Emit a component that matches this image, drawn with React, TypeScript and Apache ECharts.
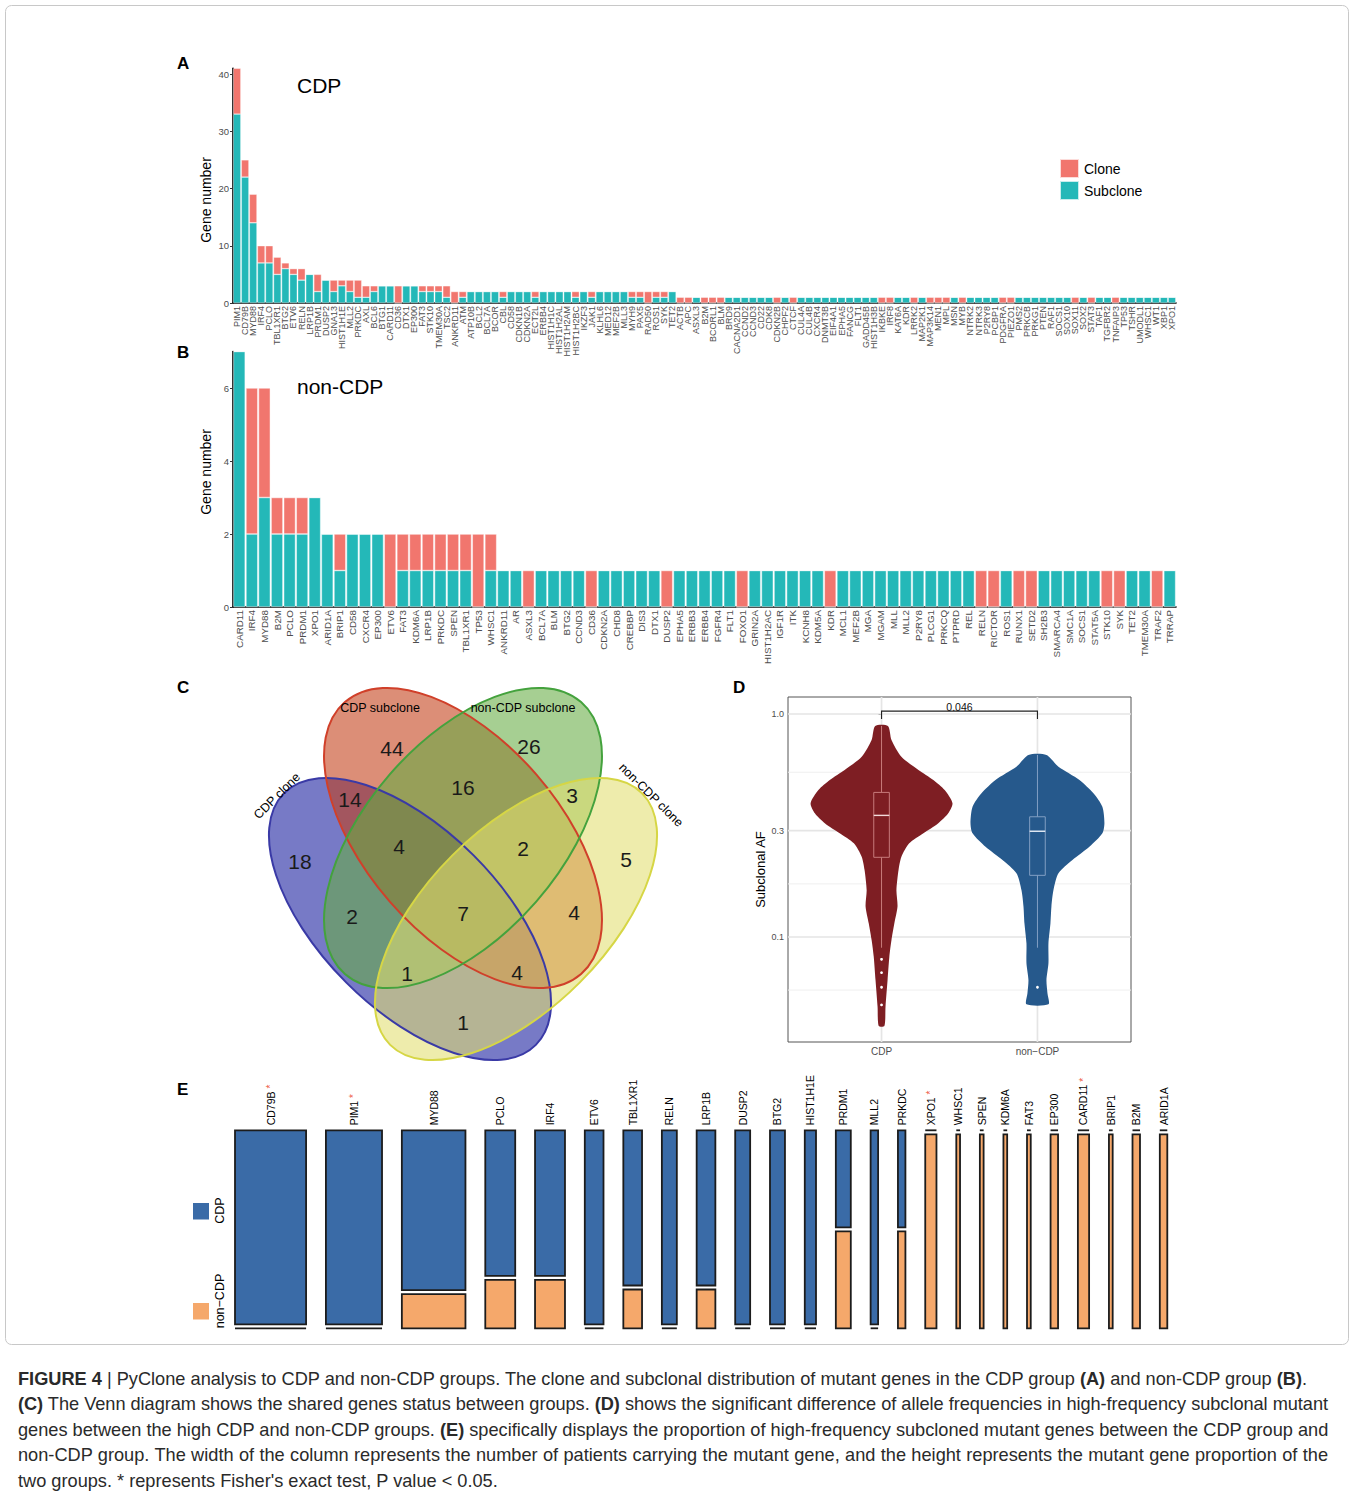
import React, { useEffect, useRef } from 'react';
import * as echarts from 'echarts';

const FONT = "'Liberation Sans', Arial, Helvetica, sans-serif";

// ---------------- Panel A (CDP) ----------------
const genesA = ['PIM1','CD79B','MYD88','IRF4','PCLO','TBL1XR1','BTG2','ETV6','RELN','LRP1B','PRDM1','DUSP2','GNA13','HIST1H1E','MLL2','PRKDC','AXL','BCL6','BTG1','CARD11','CD36','DTX1','EP300','FAT3','STK10','TMEM30A','TSC2','ANKRD11','ATM','ATP10B','BCL2','BCL7A','BCOR','CBL','CD58','CDKN1B','CDKN2A','ECT2L','ERBB4','HIST1H1C','HIST1H2AL','HIST1H2AM','HIST1H2BC','IKZF3','JAK1','KLHL6','MED12','MEF2B','MLL3','MYH9','PAX5','RAD50','ROS1','SYK','TET2','ACTB','APC','ASXL3','B2M','BCORL1','BLM','BRD9','CACNA2D1','CCND2','CCND3','CD22','CDK8','CDKN2B','CHPF2','CTCF','CUL4A','CUL4B','CXCR4','DNMT3B','EIF4A1','EPHA5','FANCG','FLT1','GADD45B','HIST1H3B','IKBKE','IRF8','KAT6A','KDR','LRRK2','MAP2K1','MAP3K14','MEN1','MPL','MSN','MYB','NTRK2','NTRK3','P2RY8','PCBP1','PDGFRA','PIEZO1','PMS2','PRKCB','PRKG1','PTEN','RAF1','SOCS1','SOX10','SOX11','SOX2','STAT3','TAF1','TGFBR2','TNFAIP3','TP53','TSHR','UMODL1','WHSC1','WT1','XBP1','XPO1'];
const subcloneA = [
  33,22,14,7,7,5,6,5,4,5,
  2,4,2,3,2,1,1,2,3,3,
  0,3,3,2,2,2,1,0,1,2,
  2,2,2,1,2,2,2,1,2,2,
  2,2,1,2,1,2,2,2,2,1,
  1,0,1,1,2,
  0,0,1,0,0,0,1,1,1,1,
  1,1,0,1,0,1,1,1,1,1,
  1,1,1,1,1,0,0,1,1,0,
  1,0,0,0,1,0,1,1,1,1,
  0,0,1,1,1,1,1,1,1,0,
  1,0,1,1,0,1,1,1,1,1,1,1
];
const cloneA = [
  8,3,5,3,3,3,1,1,2,0,
  3,0,2,1,2,3,2,1,0,0,
  3,0,0,1,1,1,2,2,1,0,
  0,0,0,1,0,0,0,1,0,0,
  0,0,1,0,1,0,0,0,0,1,
  1,2,1,1,0,
  1,1,0,1,1,1,0,0,0,0,
  0,0,1,0,1,0,0,0,0,0,
  0,0,0,0,0,1,1,0,0,1,
  0,1,1,1,0,1,0,0,0,0,
  1,1,0,0,0,0,0,0,0,1,
  0,1,0,0,1,0,0,0,0,0,0,0
];
const yTicksA = [0, 10, 20, 30, 40];

// ---------------- Panel B (non-CDP) ----------------
const genesB = ['CARD11','IRF4','MYD88','B2M','PCLO','PRDM1','XPO1','ARID1A','BRIP1','CD58','CXCR4','EP300','ETV6','FAT3','KDM6A','LRP1B','PRKDC','SPEN','TBL1XR1','TP53','WHSC1','ANKRD11','AR','ASXL3','BCL7A','BLM','BTG2','CCND3','CD36','CDKN2A','CHD8','CREBBP','DIS3','DTX1','DUSP2','EPHA5','ERBB3','ERBB4','FGFR4','FLT1','FOXO1','GRIN2A','HIST1H2AC','IGF1R','ITK','KCNH8','KDM5A','KDR','MCL1','MEF2B','MGA','MGAM','MLL','MLL2','P2RY8','PLCG1','PRKCQ','PTPRD','REL','RELN','RICTOR','ROS1','RUNX1','SETD2','SH2B3','SMARCA4','SMC1A','SOCS1','STAT5A','STK10','SYK','TET2','TMEM30A','TRAF2','TRRAP'];
const subcloneB = [
  7,2,3,2,2,2,3,2,1,2,2,2,0,1,1,1,1,1,1,0,1,
  1,1,0,1,1,1,1,0,1,1,
  1,1,1,0,1,1,1,1,1,0,
  1,1,1,1,1,1,0,1,1,1,
  1,1,1,1,1,1,1,1,0,0,
  1,0,0,1,1,1,1,1,0,0,
  1,1,0,1
];
const cloneB = [
  0,4,3,1,1,1,0,0,1,0,0,0,2,1,1,1,1,1,1,2,1,
  0,0,1,0,0,0,0,1,0,0,
  0,0,0,1,0,0,0,0,0,1,
  0,0,0,0,0,0,1,0,0,0,
  0,0,0,0,0,0,0,0,1,1,
  0,1,1,0,0,0,0,0,1,1,
  0,0,1,0
];
const yTicksB = [0, 2, 4, 6];

// ---------------- Panel C (Venn) ----------------
const vennSets = ['CDP clone', 'CDP subclone', 'non-CDP subclone', 'non-CDP clone'];
const vennRegions = ['A','B','C','D','AB','BC','CD','ABC','BCD','AC','ABCD','BD','ACD','ABD','AD'];
const vennCounts = [18, 44, 26, 5, 14, 16, 3, 4, 2, 2, 7, 4, 1, 4, 1];

// ---------------- Panel D (violin) ----------------
const groupsD = ['CDP', 'non\u2212CDP'];
const cdpViolinAF = [0.884, 0.765, 0.643, 0.561, 0.506, 0.456, 0.398, 0.359, 0.324, 0.292, 0.263, 0.229, 0.200, 0.162, 0.137, 0.115, 0.097, 0.0816, 0.0641, 0.0487, 0.0399];
const cdpViolinDensity = [0.09, 0.14, 0.28, 0.52, 0.73, 0.89, 1.0, 0.94, 0.80, 0.59, 0.39, 0.28, 0.24, 0.21, 0.225, 0.18, 0.14, 0.11, 0.085, 0.056, 0.04];
const nonCdpViolinAF = [0.655, 0.580, 0.506, 0.441, 0.384, 0.324, 0.292, 0.254, 0.2215, 0.193, 0.162, 0.137, 0.115, 0.0937, 0.0762, 0.0641, 0.0559, 0.0499];
const nonCdpViolinDensity = [0.127, 0.296, 0.592, 0.789, 0.915, 0.944, 0.915, 0.732, 0.493, 0.296, 0.225, 0.197, 0.183, 0.155, 0.155, 0.127, 0.141, 0.155];
// [lower whisker, q1, median, q3, upper whisker]
const cdpBox = [0.0895, 0.2277, 0.351, 0.445, 0.884];
const nonCdpBox = [0.0895, 0.189, 0.298, 0.346, 0.655];
const cdpOutliers = [0.0794, 0.0692, 0.0595, 0.0496];
const nonCdpOutliers = [0.0595];
const yBreaksD = [1.0, 0.3, 0.1];
const yMinorBreaksD = [0.548, 0.173, 0.0578];
const pValueD = '0.046';

// ---------------- Panel E (mosaic) ----------------
const genesE = ['CD79B','PIM1','MYD88','PCLO','IRF4','ETV6','TBL1XR1','RELN','LRP1B','DUSP2','BTG2','HIST1H1E','PRDM1','MLL2','PRKDC','XPO1','WHSC1','SPEN','KDM6A','FAT3','EP300','CARD11','BRIP1','B2M','ARID1A'];
const cdpE = [19,15,14,6,6,5,4,4,4,4,4,3,2,2,1,0,0,0,0,0,0,0,0,0,0];
const nonCdpE = [0,0,3,2,2,0,1,0,1,0,0,0,2,0,1,3,1,1,1,1,2,3,1,2,2];
const significantE = ['CD79B','PIM1','XPO1','CARD11'];

// ---------------- styling ----------------
const TEAL = '#24B8B8';
const SALMON = '#F1766E';
const BLUE_E = '#3A6BA7';
const ORANGE_E = '#F5A86B';
const VIOLIN_COLORS = ['#7E1E23', '#26598C'];
const BOX_STROKE = ['#CF8585', '#8CA7C9'];
const MEDIAN_STROKE = ['#F3DADA', '#EAF0F8'];
const VIOLIN_HALF = 0.455;
const BOX_HALF = 0.05;
const E_GAP_UNITS = 5.3;
const E_GAP_Y = 0.0202;

function buildOption() {
  const violinAF = [cdpViolinAF, nonCdpViolinAF];
  const violinDen = [cdpViolinDensity, nonCdpViolinDensity];
  const boxes = [cdpBox, nonCdpBox];
  const outl = [cdpOutliers, nonCdpOutliers];
  const lg = (v: number) => Math.log10(v);

  // mosaic layout
  let acc = 0;
  const mosaicData = genesE.map((g, i) => {
    const n = cdpE[i] + nonCdpE[i];
    const x0 = acc;
    acc += n;
    const x1 = acc;
    acc += E_GAP_UNITS;
    return [x0, x1, cdpE[i] / n, i];
  });
  const eTotal = acc - E_GAP_UNITS;

  const gridData: number[][] = [];
  yBreaksD.forEach((b) => gridData.push([0, lg(b), 1, 0]));
  yMinorBreaksD.forEach((b) => gridData.push([0, lg(b), 0, 0]));
  [0, 1].forEach((x) => gridData.push([x, 0, 1, 1]));

  const barAxisX = (data: string[], gi: number, fs: number) => ({
    type: 'category', gridIndex: gi, data,
    axisLine: { lineStyle: { color: '#000', width: 1.6 } },
    axisTick: { alignWithLabel: true, length: 2.5, lineStyle: { color: '#333' } },
    axisLabel: { interval: 0, rotate: 90, fontSize: fs, margin: 3, color: '#4D4D4D', fontFamily: FONT },
  });
  const barAxisY = (gi: number, max: number, ticks: number[]) => ({
    type: 'value', gridIndex: gi, min: 0, max,
    axisLine: { show: true, lineStyle: { color: '#000', width: 1.6 } },
    axisTick: { show: true, length: 3, customValues: ticks, lineStyle: { color: '#333' } },
    axisLabel: { customValues: ticks, fontSize: 9.5, color: '#4D4D4D', margin: 4, fontFamily: FONT },
    splitLine: { show: false },
  });

  const txt = (text: string, x: number, y: number, o: any = {}) => ({
    type: 'text', x, y, rotation: o.rotation || 0, z: 10,
    style: {
      text, fill: o.fill || '#000', fontSize: o.fontSize || 12, fontFamily: FONT,
      fontWeight: o.fontWeight || 'normal',
      align: o.align || 'left', textAlign: o.align || 'left',
      verticalAlign: o.verticalAlign || 'middle', textVerticalAlign: o.verticalAlign || 'middle',
    },
  });

  // Venn geometry (ellipses: CDP clone, CDP subclone, non-CDP subclone, non-CDP clone)
  const R49 = (49 * Math.PI) / 180;
  const vennEllipses = [
    { cx: 410, cy: 919, rx: 178, ry: 90, rot: -Math.PI / 4, fill: 'rgba(20,25,157,0.58)', stroke: '#3A3AA6' },
    { cx: 463, cy: 838, rx: 180, ry: 97, rot: -R49, fill: 'rgba(195,60,20,0.58)', stroke: '#D0402A' },
    { cx: 463, cy: 838, rx: 180, ry: 97, rot: R49, fill: 'rgba(102,172,67,0.58)', stroke: '#44A23D' },
    { cx: 516, cy: 919, rx: 178, ry: 90, rot: Math.PI / 4, fill: 'rgba(225,222,112,0.58)', stroke: '#D6D645' },
  ];
  const vennPos: number[][] = [[300,861],[392,748],[529,746],[626,859],[350,799],[463,787],[572,795],[399,846],[523,848],[352,916],[463,913],[574,912],[407,973],[517,972],[463,1022]];
  const vennSetLabelPos = [
    { x: 277, y: 796, rot: Math.PI / 4 },
    { x: 380, y: 708, rot: 0 },
    { x: 523, y: 708, rot: 0 },
    { x: 651, y: 795, rot: -0.78 },
  ];

  const graphics: any[] = [
    { type: 'rect', shape: { x: 5.5, y: 5.5, width: 1343, height: 1339, r: 6 }, style: { fill: 'none', stroke: '#C8C8C8', lineWidth: 1 } },
    txt('A', 177, 63, { fontSize: 17, fontWeight: 'bold' }),
    txt('B', 177, 352, { fontSize: 17, fontWeight: 'bold' }),
    txt('C', 177, 687, { fontSize: 17, fontWeight: 'bold' }),
    txt('D', 733, 687, { fontSize: 17, fontWeight: 'bold' }),
    txt('E', 177, 1089, { fontSize: 17, fontWeight: 'bold' }),
    txt('CDP', 297, 85, { fontSize: 21 }),
    txt('non-CDP', 297, 386, { fontSize: 21 }),
    txt('Gene number', 206, 200, { fontSize: 14, rotation: Math.PI / 2, align: 'center' }),
    txt('Gene number', 206, 472, { fontSize: 14, rotation: Math.PI / 2, align: 'center' }),
  ];
  vennEllipses.forEach((e) => graphics.push({ type: 'ellipse', x: e.cx, y: e.cy, rotation: e.rot, shape: { cx: 0, cy: 0, rx: e.rx, ry: e.ry }, style: { fill: e.fill, stroke: null } }));
  vennEllipses.forEach((e) => graphics.push({ type: 'ellipse', x: e.cx, y: e.cy, rotation: e.rot, shape: { cx: 0, cy: 0, rx: e.rx, ry: e.ry }, style: { fill: 'none', stroke: e.stroke, lineWidth: 2 } }));
  vennCounts.forEach((c, i) => graphics.push(txt(String(c), vennPos[i][0], vennPos[i][1], { fontSize: 21, align: 'center', fill: '#1A1A1A' })));
  vennSets.forEach((s, i) => graphics.push(txt(s, vennSetLabelPos[i].x, vennSetLabelPos[i].y, { fontSize: 12.5, align: 'center', rotation: vennSetLabelPos[i].rot })));
  // Panel E legend
  graphics.push({ type: 'rect', shape: { x: 193, y: 1203, width: 16, height: 16.5 }, style: { fill: BLUE_E } });
  graphics.push({ type: 'rect', shape: { x: 193, y: 1303, width: 16, height: 16.5 }, style: { fill: ORANGE_E } });
  graphics.push(txt('CDP', 220, 1210.5, { fontSize: 12.5, rotation: Math.PI / 2, align: 'center' }));
  graphics.push(txt('non\u2212CDP', 220, 1301, { fontSize: 12.5, rotation: Math.PI / 2, align: 'center' }));

  return {
    animation: false,
    textStyle: { fontFamily: FONT },
    legend: {
      data: ['Clone', 'Subclone'], left: 1059, top: 158, orient: 'vertical', padding: 0,
      itemWidth: 19, itemHeight: 19, itemGap: 1, icon: 'rect', selectedMode: false,
      textStyle: { fontSize: 14, color: '#000', fontFamily: FONT, lineHeight: 19 },
    },
    grid: [
      { left: 233, top: 68.3, width: 943, height: 234.7 },
      { left: 233, top: 351.5, width: 943, height: 255.5 },
      { left: 788, top: 697, width: 343, height: 345, show: true, borderColor: '#555', borderWidth: 1, backgroundColor: 'transparent' },
      { left: 235, top: 1130.3, width: 932.3, height: 198 },
    ],
    xAxis: [
      barAxisX(genesA, 0, 9),
      barAxisX(genesB, 1, 9.8),
      {
        type: 'value', gridIndex: 2, min: -0.6, max: 1.6,
        axisLine: { show: false }, splitLine: { show: false },
        axisTick: { show: true, length: 3, customValues: [0, 1], lineStyle: { color: '#333' } },
        axisLabel: { customValues: [0, 1], formatter: (v: number) => groupsD[Math.round(v)] || '', fontSize: 10, color: '#4D4D4D', margin: 4, fontFamily: FONT },
      },
      { type: 'value', gridIndex: 3, min: 0, max: eTotal, show: false },
    ],
    yAxis: [
      barAxisY(0, 41, yTicksA),
      barAxisY(1, 7, yTicksB),
      {
        type: 'value', gridIndex: 2, min: -1.4709, max: 0.0762,
        axisLine: { show: false }, splitLine: { show: false },
        axisTick: { show: true, length: 3, customValues: yBreaksD.map(lg), lineStyle: { color: '#333' } },
        axisLabel: {
          customValues: yBreaksD.map(lg), fontSize: 9, color: '#4D4D4D', margin: 4, fontFamily: FONT,
          formatter: (v: number) => { const b = yBreaksD.find((x) => Math.abs(lg(x) - v) < 1e-6); return b === undefined ? '' : b.toFixed(1); },
        },
        name: 'Subclonal AF', nameLocation: 'middle', nameGap: 21, nameTextStyle: { fontSize: 13, color: '#000', fontFamily: FONT },
      },
      { type: 'value', gridIndex: 3, min: 0, max: 1, show: false },
    ],
    series: [
      { type: 'bar', name: 'Subclone', xAxisIndex: 0, yAxisIndex: 0, stack: 'a', data: subcloneA, barCategoryGap: '6%', itemStyle: { color: TEAL, borderColor: 'rgba(255,255,255,0.75)', borderWidth: 0.5 } },
      { type: 'bar', name: 'Clone', xAxisIndex: 0, yAxisIndex: 0, stack: 'a', data: cloneA, barCategoryGap: '6%', itemStyle: { color: SALMON, borderColor: 'rgba(255,255,255,0.75)', borderWidth: 0.5 } },
      { type: 'bar', name: 'Subclone', xAxisIndex: 1, yAxisIndex: 1, stack: 'b', data: subcloneB, barCategoryGap: '6%', itemStyle: { color: TEAL, borderColor: 'rgba(255,255,255,0.75)', borderWidth: 0.6 } },
      { type: 'bar', name: 'Clone', xAxisIndex: 1, yAxisIndex: 1, stack: 'b', data: cloneB, barCategoryGap: '6%', itemStyle: { color: SALMON, borderColor: 'rgba(255,255,255,0.75)', borderWidth: 0.6 } },
      {
        type: 'custom', name: 'grid', xAxisIndex: 2, yAxisIndex: 2, z: 1, silent: true, data: gridData,
        renderItem: (params: any, api: any) => {
          const cs = params.coordSys;
          const major = api.value(2) === 1;
          const vertical = api.value(3) === 1;
          const style = { stroke: major ? '#E5E5E5' : '#EFEFEF', lineWidth: major ? 1.7 : 1.0 };
          if (vertical) {
            const x = api.coord([api.value(0), 0])[0];
            return { type: 'line', shape: { x1: x, y1: cs.y, x2: x, y2: cs.y + cs.height }, style };
          }
          const y = api.coord([0, api.value(1)])[1];
          return { type: 'line', shape: { x1: cs.x, y1: y, x2: cs.x + cs.width, y2: y }, style };
        },
      },
      {
        type: 'custom', name: 'violin', xAxisIndex: 2, yAxisIndex: 2, z: 2, data: [[0, 0], [1, 0]],
        renderItem: (params: any, api: any) => {
          const g = params.dataIndex;
          const af = violinAF[g], den = violinDen[g];
          const right = af.map((a, k) => api.coord([g + den[k] * VIOLIN_HALF, lg(a)]));
          const left = af.map((a, k) => api.coord([g - den[k] * VIOLIN_HALF, lg(a)])).reverse();
          return { type: 'polygon', shape: { points: right.concat(left), smooth: 0.25 }, style: { fill: VIOLIN_COLORS[g] } };
        },
      },
      {
        type: 'custom', name: 'box', xAxisIndex: 2, yAxisIndex: 2, z: 3, data: [[0, 0], [1, 0]],
        renderItem: (params: any, api: any) => {
          const g = params.dataIndex;
          const [lo, q1, med, q3, hi] = boxes[g];
          const c = (x: number, v: number) => api.coord([x, lg(v)]);
          const st = { stroke: BOX_STROKE[g], lineWidth: 0.9 };
          const pTop = c(g - BOX_HALF, q3), pBot = c(g + BOX_HALF, q1);
          const kids: any[] = [
            { type: 'line', shape: { x1: c(g, q3)[0], y1: c(g, q3)[1], x2: c(g, hi)[0], y2: c(g, hi)[1] }, style: st },
            { type: 'line', shape: { x1: c(g, q1)[0], y1: c(g, q1)[1], x2: c(g, lo)[0], y2: c(g, lo)[1] }, style: st },
            { type: 'rect', shape: { x: pTop[0], y: pTop[1], width: pBot[0] - pTop[0], height: pBot[1] - pTop[1] }, style: { fill: VIOLIN_COLORS[g], stroke: BOX_STROKE[g], lineWidth: 0.9 } },
            { type: 'line', shape: { x1: c(g - BOX_HALF, med)[0], y1: c(g, med)[1], x2: c(g + BOX_HALF, med)[0], y2: c(g, med)[1] }, style: { stroke: MEDIAN_STROKE[g], lineWidth: 1.4 } },
          ];
          outl[g].forEach((o) => { const p = c(g, o); kids.push({ type: 'circle', shape: { cx: p[0], cy: p[1], r: 1.4 }, style: { fill: '#FFFFFF' } }); });
          return { type: 'group', children: kids };
        },
      },
      {
        type: 'custom', name: 'bracket', xAxisIndex: 2, yAxisIndex: 2, z: 3, data: [[0, 0]],
        renderItem: (params: any, api: any) => {
          const yL = lg(1.03), yT = lg(0.95);
          const a = api.coord([0, yT]), b = api.coord([0, yL]), c2 = api.coord([1, yL]), d = api.coord([1, yT]);
          const m = api.coord([0.5, yL]);
          return {
            type: 'group', children: [
              { type: 'polyline', shape: { points: [a, b, c2, d] }, style: { stroke: '#222', lineWidth: 1.1, fill: 'none' } },
              { type: 'text', x: m[0], y: m[1] + 1, style: { text: pValueD, fontSize: 10.5, fill: '#111', fontFamily: FONT, align: 'center', textAlign: 'center', verticalAlign: 'bottom', textVerticalAlign: 'bottom' } },
            ],
          };
        },
      },
      {
        type: 'custom', name: 'mosaic', xAxisIndex: 3, yAxisIndex: 3, z: 2, data: mosaicData,
        renderItem: (params: any, api: any) => {
          const i = params.dataIndex;
          const x0 = api.value(0), x1 = api.value(1), p = api.value(2);
          const tl = api.coord([x0, 1]), br = api.coord([x1, 0]);
          const L = tl[0], R = br[0], T = tl[1], B = br[1];
          const gap = (B - T) * E_GAP_Y;
          const inner = B - T - gap;
          const hb = inner * p, ho = inner * (1 - p);
          const stroke = '#1C1C1C', lw = 1.8;
          const seg = (y0: number, h: number, fill: string) => h > 0.01
            ? { type: 'rect', shape: { x: L, y: y0, width: R - L, height: h }, style: { fill, stroke, lineWidth: lw } }
            : { type: 'line', shape: { x1: L, y1: y0, x2: R, y2: y0 }, style: { stroke, lineWidth: lw } };
          const gene = genesE[i];
          const sig = significantE.indexOf(gene) >= 0;
          return {
            type: 'group', children: [
              seg(T, hb, BLUE_E),
              seg(B - ho, ho, ORANGE_E),
              {
                type: 'text', x: (L + R) / 2, y: T - 5, rotation: Math.PI / 2,
                style: {
                  text: sig ? `{g|${gene}} {s|*}` : `{g|${gene}}`,
                  align: 'left', textAlign: 'left', verticalAlign: 'middle', textVerticalAlign: 'middle',
                  fontFamily: FONT, fontSize: 10.5, fill: '#000',
                  rich: { g: { fontSize: 10.5, fill: '#000', color: '#000', fontFamily: FONT }, s: { fontSize: 10, fill: '#EE5A45', color: '#EE5A45', fontFamily: FONT } },
                },
              },
            ],
          };
        },
      },
    ],
    graphic: { elements: graphics },
  };
}

const lineStyle: React.CSSProperties = { whiteSpace: 'nowrap' };
const justStyle: React.CSSProperties = { whiteSpace: 'nowrap', textAlign: 'justify', textAlignLast: 'justify' as any };

export default function App() {
  const ref = useRef<HTMLDivElement>(null);
  useEffect(() => {
    if (!ref.current) return;
    const chart = echarts.init(ref.current, null, { renderer: 'svg' });
    chart.setOption(buildOption() as any);
    return () => { chart.dispose(); };
  }, []);
  return (
    <div style={{ position: 'absolute', left: 0, top: 0, width: 1352, height: 1498, background: '#fff', overflow: 'hidden' }}>
      <div ref={ref} style={{ position: 'absolute', left: 0, top: 0, width: 1352, height: 1352 }} />
      <div style={{ position: 'absolute', left: 18, top: 1367, width: 1310, fontFamily: FONT, fontSize: 18.2, lineHeight: '25.4px', color: '#2A2A2A' }}>
        <div style={lineStyle}><b>FIGURE 4</b> | PyClone analysis to CDP and non-CDP groups. The clone and subclonal distribution of mutant genes in the CDP group <b>(A)</b> and non-CDP group <b>(B)</b>.</div>
        <div style={{ ...justStyle, letterSpacing: '-0.045px' }}><b>(C)</b> The Venn diagram shows the shared genes status between groups. <b>(D)</b> shows the significant difference of allele frequencies in high-frequency subclonal mutant</div>
        <div style={justStyle}>genes between the high CDP and non-CDP groups. <b>(E)</b> specifically displays the proportion of high-frequency subcloned mutant genes between the CDP group and</div>
        <div style={justStyle}>non-CDP group. The width of the column represents the number of patients carrying the mutant gene, and the height represents the mutant gene proportion of the</div>
        <div style={lineStyle}>two groups. * represents Fisher&apos;s exact test, P value &lt; 0.05.</div>
      </div>
    </div>
  );
}
